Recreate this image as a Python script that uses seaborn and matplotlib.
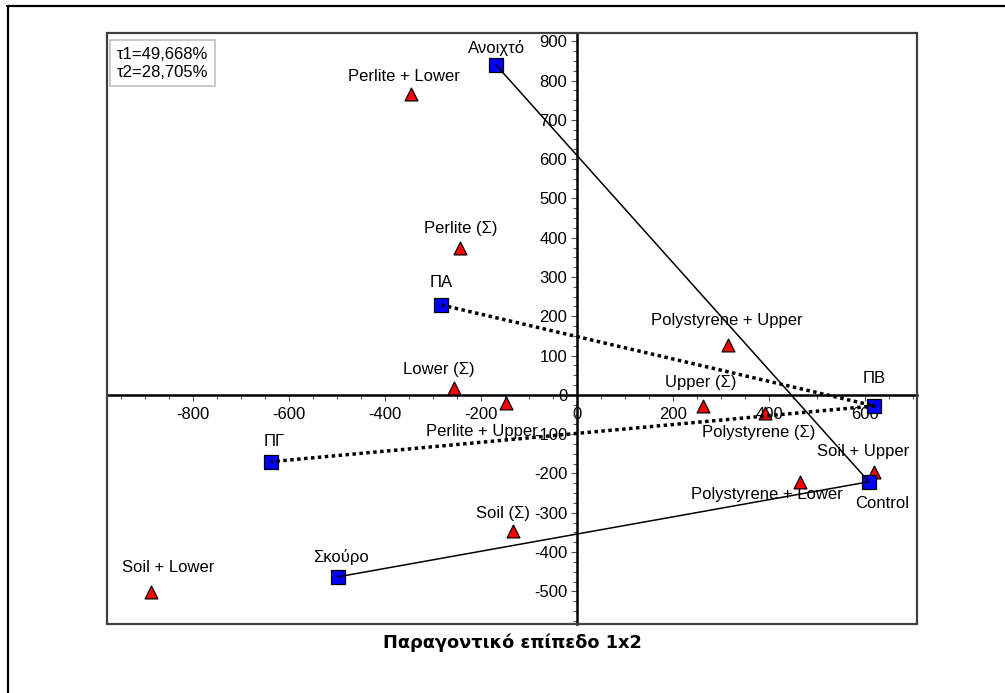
import matplotlib
matplotlib.use("Agg")
import matplotlib.pyplot as plt
from matplotlib.ticker import MultipleLocator, FixedLocator
from matplotlib.lines import Line2D
from matplotlib.patches import Rectangle
import pandas as pd
import seaborn as sns

# Factor levels (blue squares)
level_names = ["Ανοιχτό", "ΠΑ", "ΠΒ", "ΠΓ", "Σκούρο", "Control"]
level_x = [-169, -283, 619, -638, -498, 608]
level_y = [840, 229, -28, -170, -463, -221]

# Treatments (red triangles)
treat_names = ["Perlite + Lower", "Perlite (Σ)", "Polystyrene + Upper", "Lower (Σ)",
               "Perlite + Upper", "Upper (Σ)", "Polystyrene (Σ)", "Soil + Upper",
               "Polystyrene + Lower", "Soil (Σ)", "Soil + Lower"]
treat_x = [-346, -244, 315, -256, -148, 263, 392, 619, 465, -133, -888]
treat_y = [766, 374, 127, 18, -20, -28, -46, -196, -221, -346, -501]

# Paths joining the levels of each factor
solid_path = ["Ανοιχτό", "Control", "Σκούρο"]
dotted_path = ["ΠΑ", "ΠΒ", "ΠΓ"]

inertia_text = ["τ1=49,668%", "τ2=28,705%"]
title_text = "Παραγοντικό επίπεδο 1x2"
x_tick_values = [-800, -600, -400, -200, 0, 200, 400, 600]
y_tick_values = [-500, -400, -300, -200, -100, 0, 100, 200, 300, 400, 500, 600, 700, 800, 900]

# label offsets in pixels (dx, dy) from each marker
level_offsets = {"Ανοιχτό": (1, 17), "ΠΑ": (0, 22), "ΠΒ": (0, 27), "ΠΓ": (3, 20),
                 "Σκούρο": (3, 20), "Control": (13, -22)}
treat_offsets = {"Perlite + Lower": (-7, 17), "Perlite (Σ)": (1, 19),
                 "Polystyrene + Upper": (-1, 25), "Lower (Σ)": (-15, 18),
                 "Perlite + Upper": (-24, -29), "Upper (Σ)": (-3, 23),
                 "Polystyrene (Σ)": (-7, -20), "Soil + Upper": (-11, 20),
                 "Polystyrene + Lower": (-33, -13), "Soil (Σ)": (-10, 17),
                 "Soil + Lower": (17, 24)}

levels = pd.DataFrame({"name": level_names, "x": level_x, "y": level_y})
treats = pd.DataFrame({"name": treat_names, "x": treat_x, "y": treat_y})
lookup = levels.set_index("name")

sns.set_theme(style="white")
plt.rcParams["font.family"] = ["Liberation Sans", "DejaVu Sans"]
plt.rcParams["axes.unicode_minus"] = False
plt.rcParams["text.color"] = "black"
plt.rcParams["xtick.color"] = "black"
plt.rcParams["ytick.color"] = "black"

fig = plt.figure(figsize=(10.05, 6.93), dpi=100)
ax = fig.add_axes([107 / 1005, 1 - 624 / 693, 810 / 1005, 591 / 693])
ax.set_facecolor("white")

sns.scatterplot(data=treats, x="x", y="y", marker="^", s=85, color="#ff0000",
                edgecolor="black", linewidth=0.9, ax=ax, zorder=3)
sns.scatterplot(data=levels, x="x", y="y", marker="s", s=95, color="#0000ff",
                edgecolor="black", linewidth=0.9, ax=ax, zorder=3)

solid_df = lookup.loc[solid_path].reset_index()
dotted_df = lookup.loc[dotted_path].reset_index()
sns.lineplot(data=solid_df, x="x", y="y", sort=False, estimator=None,
             color="black", linewidth=1.1, ax=ax, zorder=4)
sns.lineplot(data=dotted_df, x="x", y="y", sort=False, estimator=None,
             color="black", linewidth=2.5, dashes=False, ax=ax, zorder=4)
ax.lines[-1].set_dashes([1, 1])
ax.lines[-1].set_dash_capstyle("butt")

for df, offs in ((levels, level_offsets), (treats, treat_offsets)):
    for name, x, y in zip(df["name"], df["x"], df["y"]):
        ax.annotate(name, (x, y), xytext=offs[name], textcoords="offset pixels",
                    ha="center", va="center", fontsize=12, color="black", zorder=2)

ax.set_xlim(-979, 708)
ax.set_ylim(-583, 921)
ax.set_xlabel("")
ax.set_ylabel("")

# axes crossing at the origin
for side in ("left", "bottom"):
    ax.spines[side].set_position(("data", 0))
    ax.spines[side].set_color("black")
    ax.spines[side].set_linewidth(1.8)
    ax.spines[side].set_zorder(2.5)
for side in ("top", "right"):
    ax.spines[side].set_visible(False)
ax.add_patch(Rectangle((0, 0), 1, 1, transform=ax.transAxes, fill=False,
                       edgecolor="#404040", linewidth=1.6, clip_on=False, zorder=5))

ax.xaxis.set_major_locator(FixedLocator(x_tick_values))
ax.yaxis.set_major_locator(FixedLocator(y_tick_values))
ax.xaxis.set_minor_locator(MultipleLocator(50))
ax.yaxis.set_minor_locator(MultipleLocator(25))
ax.tick_params(which="both", direction="out", color="#505050", width=0.8,
               labelcolor="black", bottom=True, left=True, top=False, right=False)
ax.tick_params(which="major", length=4, labelsize=12, pad=3)
ax.tick_params(which="minor", length=3)
ax.tick_params(axis="x", which="major", pad=5)

ax.text(0.012, 0.977, "\n".join(inertia_text), transform=ax.transAxes,
        ha="left", va="top", fontsize=12, linespacing=1.25, color="black",
        bbox=dict(boxstyle="square,pad=0.4", facecolor="white",
                  edgecolor="#c0c0c0", linewidth=1.2), zorder=6)

fig.text(512 / 1005, 1 - 643 / 693, title_text, ha="center", va="center",
         fontsize=12.8, fontweight="bold", family="DejaVu Sans", color="black")

# outer frame lines along the top and left edges
fig.add_artist(Line2D([7 / 1005, 1.0], [1 - 5.5 / 693, 1 - 5.5 / 693],
                      transform=fig.transFigure, color="black", linewidth=1.6))
fig.add_artist(Line2D([7.5 / 1005, 7.5 / 1005], [0.0, 1 - 5.5 / 693],
                      transform=fig.transFigure, color="black", linewidth=1.6))

fig.savefig("out.png", dpi=100, facecolor="white")
